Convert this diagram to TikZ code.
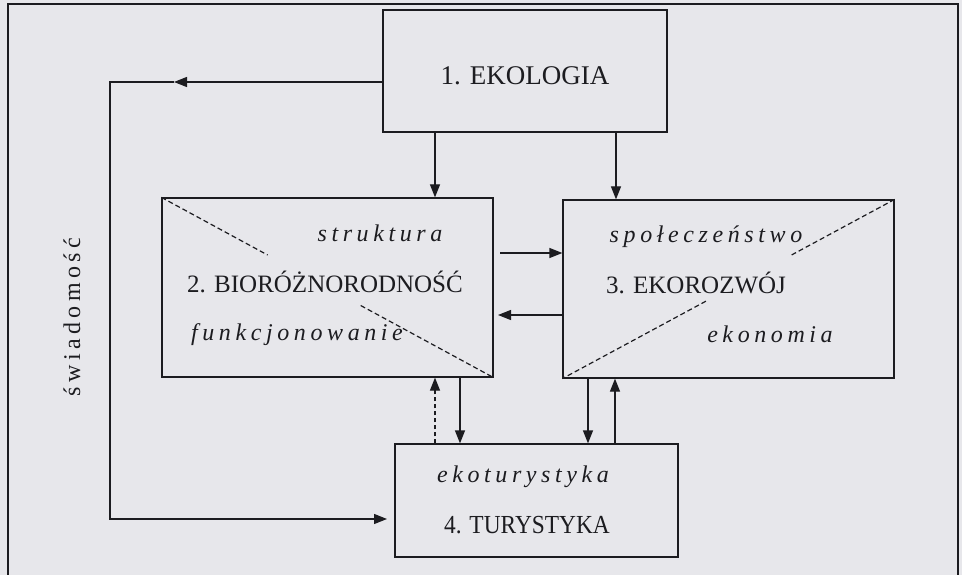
\documentclass[tikz,border=0pt]{standalone}
\usepackage{fontspec}
\setmainfont{Liberation Serif}
\newfontfamily\condfont[FakeStretch=0.9]{Liberation Serif}
\usetikzlibrary{arrows.meta,calc}
\definecolor{paper}{RGB}{231,231,235}
\definecolor{ink}{RGB}{28,28,32}
\newlength{\lsp}\setlength{\lsp}{4.6pt}
\def\lspaced#1{\lspacedA#1\relax}
\def\lspacedA#1#2{#1\ifx\relax#2\else\kern\lsp\expandafter\lspacedA\expandafter#2\fi}
\begin{document}
\begin{tikzpicture}[x=1pt,y=-1pt,
  box/.style={draw=ink, line width=1.2pt, inner sep=0pt},
  lab/.style={font=\fontsize{25}{30}\selectfont, text=ink, inner sep=0pt, anchor=base},
  ital/.style={font=\fontsize{24}{28}\selectfont\itshape, text=ink, inner sep=0pt, anchor=base},
  upr/.style={font=\fontsize{24}{28}\selectfont, text=ink, inner sep=0pt, anchor=base},
  dsh/.style={draw=ink, line width=1.2pt, dash pattern=on 5pt off 3pt},
  arr/.style={draw=ink, line width=1.2pt, -{Triangle[length=13pt,width=10pt]}},
  darr/.style={draw=ink, line width=1.2pt, dash pattern=on 4pt off 3pt, -{Triangle[length=13pt,width=10pt]}}]
\useasboundingbox (0,0) rectangle (962,575);
\fill[paper] (0,0) rectangle (962,575);
\draw[ink, line width=1.5pt] (8,576) -- (8,4) -- (958,4) -- (958,576);

% boxes
\node[box, minimum width=284pt, minimum height=122pt] (b1) at (525,71) {};
\node[box, minimum width=331pt, minimum height=179pt] (b2) at (327.5,287.5) {};
\node[box, minimum width=331pt, minimum height=178pt] (b3) at (728.5,289) {};
\node[box, minimum width=283pt, minimum height=113pt] (b4) at (536.5,500.5) {};

% texts
\node[lab, font=\fontsize{27}{32}\selectfont] (t1) at (525,85) {1. EKOLOGIA};
\node[lab] (t2) at (325,292) {2. BIORÓŻNORODNOŚĆ};
\node[lab] (t3) at (696,293) {3. EKOROZWÓJ};
\node[lab, font=\fontsize{26}{31}\condfont] (t4) at (527,533) {4. TURYSTYKA};
\node[ital] (s2a) at (380,241) {\lspaced{struktura}};
\node[ital] (s2b) at (297,340) {\lspaced{funkcjonowanie}};
\node[ital] (s3a) at (706,242) {\lspaced{społeczeństwo}};
\node[ital] (s3b) at (770,342) {\lspaced{ekonomia}};
\node[ital] (s4) at (523,482) {\lspaced{ekoturystyka}};
\node[upr, rotate=90, font=\fontsize{24}{28}\selectfont\setlength{\lsp}{4.4pt}] (sw) at (80,317) {\lspaced{świadomość}};

% dashed diagonals
\draw[dsh] (b2.north west) -- ($(b2.north west)!0.32!(b2.south east)$);
\draw[dsh] ($(b2.north west)!0.6!(b2.south east)$) -- (b2.south east);
\draw[dsh] (b3.north east) -- ($(b3.north east)!0.317!(b3.south west)$);
\draw[dsh] ($(b3.north east)!0.568!(b3.south west)$) -- (b3.south west);

% helper coordinates
\coordinate (c435) at (435,0);
\coordinate (c460) at (460,0);
\coordinate (c588) at (588,0);
\coordinate (c615) at (615,0);
\coordinate (c616) at (616,0);
\coordinate (h1s) at (500,253);
\coordinate (h2e) at (498,315);
\coordinate (lmid) at (174,82);
\coordinate (lc1) at (110,82);
\coordinate (lc2) at (110,519);
\coordinate (l4) at (387,519);

% vertical arrows
\draw[arr] (b1.south -| c435) -- (b2.north -| c435);
\draw[arr] (b1.south -| c616) -- (b3.north -| c616);
\draw[darr] (b4.north -| c435) -- (b2.south -| c435);
\draw[arr] (b2.south -| c460) -- (b4.north -| c460);
\draw[arr] (b3.south -| c588) -- (b4.north -| c588);
\draw[arr] (b4.north -| c615) -- (b3.south -| c615);

% horizontal arrows
\draw[arr] (h1s) -- (h1s -| b3.west);
\draw[arr] (h2e -| b3.west) -- (h2e);

% awareness loop
\draw[arr] (lmid -| b1.west) -- (lmid);
\draw[arr] (lmid) -- (lc1) -- (lc2) -- (l4);
\end{tikzpicture}
\end{document}
